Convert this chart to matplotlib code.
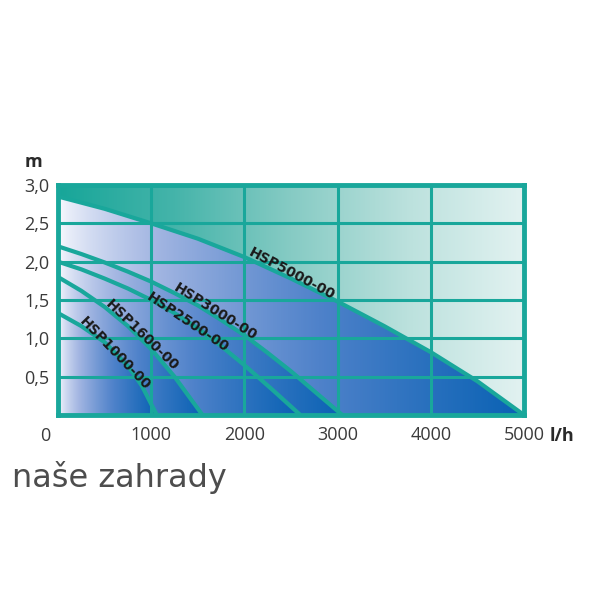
import numpy as np
import matplotlib
matplotlib.use('Agg')
import matplotlib.pyplot as plt
from matplotlib.colors import LinearSegmentedColormap

# pump curves (flow l/h, head m)
pumps = ['HSP1000-00', 'HSP1600-00', 'HSP2500-00', 'HSP3000-00', 'HSP5000-00']
flow_1000 = [0, 250, 500, 750, 900, 1060]
head_1000 = [1.33, 1.16, 0.95, 0.64, 0.38, 0.0]
flow_1600 = [0, 250, 500, 750, 1000, 1250, 1550]
head_1600 = [1.8, 1.62, 1.41, 1.16, 0.86, 0.5, 0.0]
flow_2500 = [0, 250, 500, 750, 1000, 1250, 1500, 1750, 2000, 2300, 2600]
head_2500 = [2.0, 1.9, 1.78, 1.65, 1.5, 1.33, 1.13, 0.9, 0.65, 0.33, 0.0]
flow_3000 = [0, 250, 500, 750, 1000, 1250, 1500, 1750, 2000, 2250, 2500, 2750, 3050]
head_3000 = [2.2, 2.1, 1.99, 1.87, 1.74, 1.59, 1.43, 1.24, 1.04, 0.81, 0.57, 0.31, 0.0]
flow_5000 = [0, 500, 1000, 1500, 2000, 2500, 3000, 3500, 4000, 4500, 5000]
head_5000 = [2.85, 2.69, 2.5, 2.3, 2.06, 1.78, 1.48, 1.16, 0.82, 0.44, 0.0]

x_ticks = [1000, 2000, 3000, 4000, 5000]
x_labels = ['1000', '2000', '3000', '4000', '5000']
y_ticks = [0.5, 1.0, 1.5, 2.0, 2.5, 3.0]
y_labels = ['0,5', '1,0', '1,5', '2,0', '2,5', '3,0']

# label anchor (flow, head) and angle for each curve name
label_x = [610, 900, 1390, 1690, 2510]
label_y = [0.80, 1.04, 1.21, 1.34, 1.84]
label_rot = [-46, -44, -34, -32, -28]

curves = [(flow_1000, head_1000), (flow_1600, head_1600), (flow_2500, head_2500),
          (flow_3000, head_3000), (flow_5000, head_5000)]

teal = '#19a79b'

fig = plt.figure(figsize=(6, 6), dpi=100)
ax = fig.add_axes([58 / 600, 1 - 415 / 600, 466 / 600, 230 / 600])
ax.set_xlim(0, 5000)
ax.set_ylim(0, 3)

# background gradients: each band under a curve fades from white towards blue
gx = np.linspace(0, 5000, 900)
gy = np.linspace(0, 3, 500)
X, Y = np.meshgrid(gx, gy)
heights = [np.interp(gx, f, h, right=0.0) for f, h in curves]
ends = [f[-1] for f, h in curves]

width = np.full(X.shape, np.nan)
for h, e in reversed(list(zip(heights, ends))):
    under = Y < h[None, :]
    width[under] = e

blue = LinearSegmentedColormap.from_list('blue', ['#fbfcff', '#a3b6e2', '#4f82ca', '#0a62b4'])
tealmap = LinearSegmentedColormap.from_list('teal', ['#17a699', '#45b4aa', '#86cbc4', '#bbe1dd', '#e2f2f1'])

dark = np.clip(X / np.nan_to_num(width, nan=1.0), 0, 1) ** 0.7
img = blue(dark)
top = np.isnan(width)
img[top] = tealmap(X[top] / 5000)
ax.imshow(img, extent=[0, 5000, 0, 3], origin='lower', aspect='auto', zorder=0)

for f, h in curves:
    ax.plot(f, h, color=teal, lw=3, solid_capstyle='butt', solid_joinstyle='round', zorder=3)

for name, lx, ly, rot in zip(pumps, label_x, label_y, label_rot):
    ax.text(lx, ly, name, rotation=rot, rotation_mode='anchor', ha='center', va='center',
            fontsize=10, fontweight='bold', color='#1a1a1a', zorder=4)

ax.set_xticks(x_ticks)
ax.set_xticklabels(x_labels)
ax.set_yticks(y_ticks)
ax.set_yticklabels(y_labels)
ax.tick_params(length=0, labelsize=13, labelcolor='#3a3a3a')
ax.tick_params(axis='x', pad=8)
ax.tick_params(axis='y', pad=6)
for lab in ax.get_xticklabels() + ax.get_yticklabels():
    lab.set_fontfamily('Open Sans')
ax.grid(True, color=teal, lw=2.2, zorder=2)
ax.set_axisbelow(False)
for s in ax.spines.values():
    s.set_color(teal)
    s.set_linewidth(3.5)
    s.set_zorder(5)

fig.text(45 / 600, 1 - 436 / 600, '0', ha='center', va='center', fontsize=13,
         color='#3a3a3a', family='Open Sans')
fig.text(562 / 600, 1 - 436 / 600, 'l/h', ha='center', va='center', fontsize=13,
         fontweight='bold', color='#2a2a2a', family='Open Sans')
fig.text(33 / 600, 1 - 162 / 600, 'm', ha='center', va='center', fontsize=13,
         fontweight='bold', color='#2a2a2a', family='Open Sans')
fig.text(12 / 600, 1 - 478 / 600, 'naše zahrady', ha='left', va='center', fontsize=23,
         color='#4d4d4d', family='DejaVu Sans')

fig.savefig('out.png', dpi=100)
